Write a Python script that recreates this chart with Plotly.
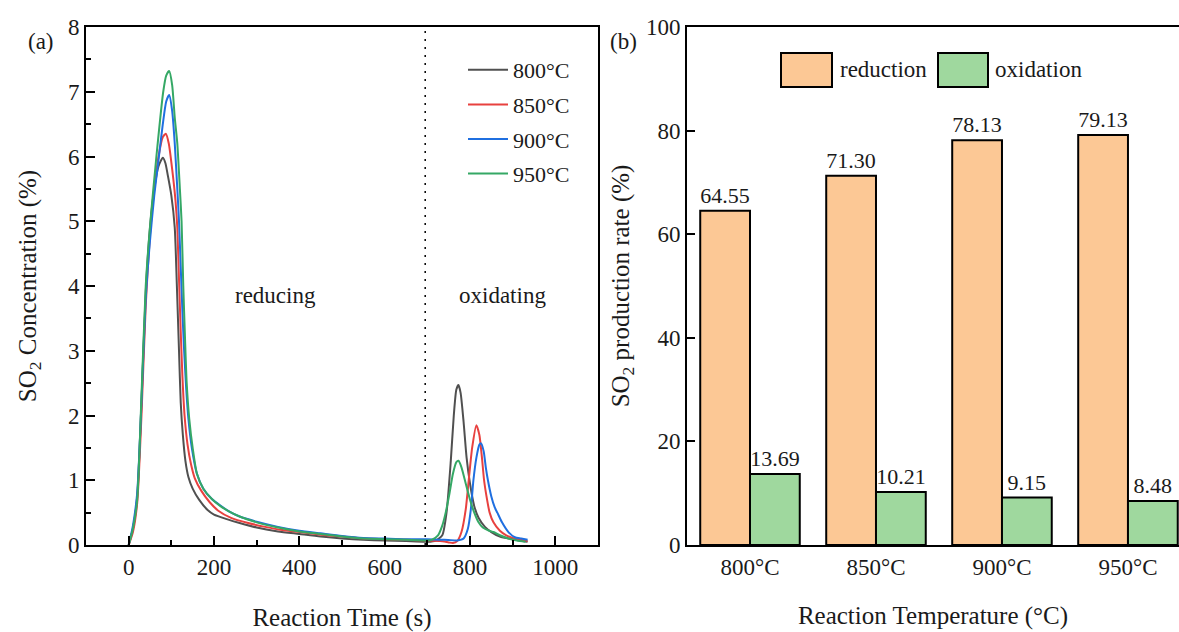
import plotly.graph_objects as go

# ---------------- data: panel (a) SO2 concentration curves ----------------
t_800 = [0, 10, 20, 30, 40, 50, 60, 70, 80, 86, 92, 100, 108, 113, 118, 122, 127, 133, 140, 150, 165, 185, 200,
         230, 260, 300, 350, 400, 450, 500, 550, 600, 650, 700, 720, 735, 745, 755, 762, 768, 773, 778,
         785, 792, 800, 810, 820, 835, 850, 870, 900, 935]
c_800 = [0.0, 0.25, 0.75, 2.2, 3.9, 4.9, 5.5, 5.85, 5.98, 5.9, 5.7, 5.4, 4.9, 4.0, 3.0, 2.2, 1.7, 1.3, 1.05, 0.87,
         0.7, 0.54, 0.47, 0.40, 0.34, 0.27, 0.21, 0.17, 0.13, 0.10, 0.08, 0.07, 0.06, 0.05, 0.07, 0.15,
         0.5, 1.3, 2.0, 2.4, 2.47, 2.35, 1.9, 1.35, 0.95, 0.6, 0.42, 0.28, 0.2, 0.13, 0.09, 0.05]

t_850 = [0, 10, 20, 30, 40, 50, 60, 70, 80, 87, 94, 102, 110, 114, 118, 122, 126, 131, 138, 146, 155, 170,
         190, 210, 240, 280, 320, 360, 400, 450, 500, 550, 600, 650, 700, 730, 750, 760, 770, 780, 790,
         797, 805, 815, 822, 828, 833, 840, 846, 855, 870, 885, 900, 935]
c_850 = [0.0, 0.2, 0.65, 2.0, 3.7, 4.8, 5.5, 6.0, 6.3, 6.35, 6.2, 5.8, 5.3, 4.9, 4.1, 3.3, 2.6, 2.0, 1.55,
         1.25, 1.03, 0.84, 0.66, 0.53, 0.42, 0.34, 0.28, 0.23, 0.2, 0.16, 0.13, 0.1, 0.09, 0.08, 0.07, 0.06,
         0.04, 0.03, 0.06, 0.2, 0.55, 1.0, 1.5, 1.85, 1.7, 1.35, 1.0, 0.7, 0.5, 0.35, 0.22, 0.15, 0.11, 0.06]

t_900 = [0, 10, 20, 30, 40, 50, 60, 70, 80, 88, 95, 102, 108, 114, 118, 122, 126, 130, 135, 140, 148, 160,
         175, 195, 215, 235, 260, 300, 350, 400, 450, 500, 550, 600, 650, 700, 740, 770, 785, 795, 802,
         808, 815, 822, 826, 832, 837, 842, 850, 858, 864, 875, 890, 905, 920, 935]
c_900 = [0.0, 0.3, 0.8, 2.2, 3.8, 4.7, 5.4, 5.95, 6.5, 6.85, 6.95, 6.7, 6.2, 5.5, 5.0, 4.3, 3.6, 3.0, 2.4,
         1.95, 1.5, 1.1, 0.87, 0.71, 0.61, 0.52, 0.44, 0.36, 0.28, 0.22, 0.18, 0.14, 0.11, 0.1, 0.09, 0.09,
         0.08, 0.07, 0.1, 0.25, 0.55, 1.0, 1.35, 1.55, 1.57, 1.45, 1.2, 1.0, 0.75, 0.58, 0.5, 0.35, 0.2,
         0.12, 0.1, 0.08]

t_950 = [0, 10, 20, 30, 40, 51, 65, 81, 88, 95, 102, 108, 114, 120, 124, 128, 132, 136, 142, 150, 160, 175,
         195, 215, 235, 260, 300, 350, 400, 450, 500, 550, 600, 650, 700, 710, 725, 735, 743, 752, 760,
         768, 773, 780, 790, 800, 810, 820, 830, 845, 855, 870, 890, 910, 930]
c_950 = [0.0, 0.25, 0.7, 2.3, 4.0, 5.0, 6.0, 7.0, 7.25, 7.32, 7.1, 6.6, 6.2, 5.5, 5.0, 4.0, 3.2, 2.5, 1.95,
         1.5, 1.1, 0.87, 0.71, 0.6, 0.52, 0.44, 0.35, 0.27, 0.21, 0.17, 0.13, 0.1, 0.09, 0.08, 0.07, 0.08,
         0.15, 0.3, 0.5, 0.8, 1.1, 1.28, 1.3, 1.2, 0.95, 0.7, 0.5, 0.35, 0.27, 0.22, 0.2, 0.15, 0.1, 0.07, 0.05]

curve_names = ["800°C", "850°C", "900°C", "950°C"]
curve_colors = ["#505050", "#e8413f", "#1f6fe0", "#35a865"]

# ---------------- data: panel (b) production rates ----------------
temps = ["800°C", "850°C", "900°C", "950°C"]
reduction = [64.55, 71.30, 78.13, 79.13]
oxidation = [13.69, 10.21, 9.15, 8.48]

FONT = "Liberation Serif"
TXT = "#1a1a1a"

fig = go.Figure()

series = [(t_800, c_800), (t_850, c_850), (t_900, c_900), (t_950, c_950)]
for (tt, cc), nm, col in zip(series, curve_names, curve_colors):
    fig.add_trace(go.Scatter(x=tt, y=cc, mode="lines", name=nm, legendgroup=nm,
                             line=dict(color=col, width=2, shape="spline", smoothing=0.6),
                             xaxis="x", yaxis="y"))

fig.add_trace(go.Bar(x=temps, y=reduction, name="reduction", showlegend=False,
                     marker=dict(color="#fcc895", line=dict(color="black", width=2)),
                     texttemplate="%{y:.2f}", textposition="outside", cliponaxis=False,
                     constraintext="none", textfont=dict(family=FONT, size=22, color=TXT),
                     xaxis="x2", yaxis="y2"))
fig.add_trace(go.Bar(x=temps, y=oxidation, name="oxidation", showlegend=False,
                     marker=dict(color="#9fd89e", line=dict(color="black", width=2)),
                     texttemplate="%{y:.2f}", textposition="outside", cliponaxis=False,
                     constraintext="none", textfont=dict(family=FONT, size=22, color=TXT),
                     xaxis="x2", yaxis="y2"))

axis_common = dict(showline=True, linewidth=2, linecolor="black", showgrid=False, zeroline=False,
                   tickfont=dict(family=FONT, size=23, color=TXT), tickcolor="black", tickwidth=1.5)

W, H = 1179, 632
L, R, T, B = 86, 0, 27, 87
PW = W - L - R
PH = H - T - B


def px(xp):
    return (xp - L) / PW


def py(yp):
    return (H - B - yp) / PH


fig.update_layout(
    width=W, height=H,
    margin=dict(l=L, r=R, t=T, b=B),
    paper_bgcolor="white", plot_bgcolor="white",
    font=dict(family=FONT, size=23, color=TXT),
    barmode="group", bargap=0.21, bargroupgap=0,
    xaxis=dict(domain=[0, px(598)], range=[-100, 1100], tickvals=[0, 200, 400, 600, 800, 1000],
               ticks="inside", ticklen=9, mirror=True,
               minor=dict(dtick=100, ticks="inside", ticklen=5, tickcolor="black", tickwidth=1.5),
               title=dict(text="Reaction Time (s)", font=dict(family=FONT, size=25, color=TXT), standoff=30),
               anchor="y", **axis_common),
    yaxis=dict(domain=[0, 1], range=[0, 8], dtick=1, ticks="inside", ticklen=9, mirror=True,
               minor=dict(dtick=0.5, ticks="inside", ticklen=5, tickcolor="black", tickwidth=1.5),
               title=dict(text="SO<sub>2</sub> Concentration (%)", font=dict(family=FONT, size=25, color=TXT),
                          standoff=24),
               anchor="x", **axis_common),
    xaxis2=dict(domain=[px(687), 1], range=[-0.5, 3.405], type="category", ticks="", mirror=True,
                title=dict(text="Reaction Temperature (°C)", font=dict(family=FONT, size=25, color=TXT),
                           standoff=28),
                anchor="y2", **axis_common),
    yaxis2=dict(domain=[0, 1], range=[0, 100], dtick=20, ticks="inside", ticklen=8, mirror=False,
                title=dict(text="SO<sub>2</sub> production rate (%)", font=dict(family=FONT, size=25, color=TXT),
                           standoff=9),
                anchor="x2", **axis_common),
    legend=dict(x=px(463), y=py(49), xanchor="left", yanchor="top", bgcolor="rgba(0,0,0,0)",
                font=dict(family=FONT, size=22, color=TXT), tracegroupgap=3, itemwidth=40,
                traceorder="grouped"),
    showlegend=True,
)

# dotted separator between reducing / oxidating stages
fig.add_shape(type="line", xref="x", yref="y", x0=695, x1=695, y0=0, y1=8,
              line=dict(color="black", width=1.5, dash="2px,6px"))

# custom legend boxes for panel (b)
leg_boxes = [(781, 832, "#fcc895", "reduction", 838), (938, 988, "#9fd89e", "oxidation", 993)]
for x0, x1, col, lab, tx in leg_boxes:
    fig.add_shape(type="rect", xref="paper", yref="paper", x0=px(x0), x1=px(x1), y0=py(87), y1=py(53),
                  fillcolor=col, line=dict(color="black", width=2))
    fig.add_annotation(xref="paper", yref="paper", x=px(tx), y=py(70), text=lab, showarrow=False,
                       xanchor="left", yanchor="middle", font=dict(family=FONT, size=23, color=TXT))

# stage annotations
fig.add_annotation(xref="x", yref="y", x=343, y=3.86, text="reducing", showarrow=False,
                   font=dict(family=FONT, size=23, color=TXT))
fig.add_annotation(xref="x", yref="y", x=875, y=3.86, text="oxidating", showarrow=False,
                   font=dict(family=FONT, size=23, color=TXT))

# panel labels
fig.add_annotation(xref="paper", yref="paper", x=px(26), y=py(27), text="(a)", showarrow=False,
                   font=dict(family=FONT, size=23, color=TXT))
fig.add_annotation(xref="paper", yref="paper", x=px(623), y=py(27), text="(b)", showarrow=False,
                   font=dict(family=FONT, size=23, color=TXT))

fig.write_html("out.html")
